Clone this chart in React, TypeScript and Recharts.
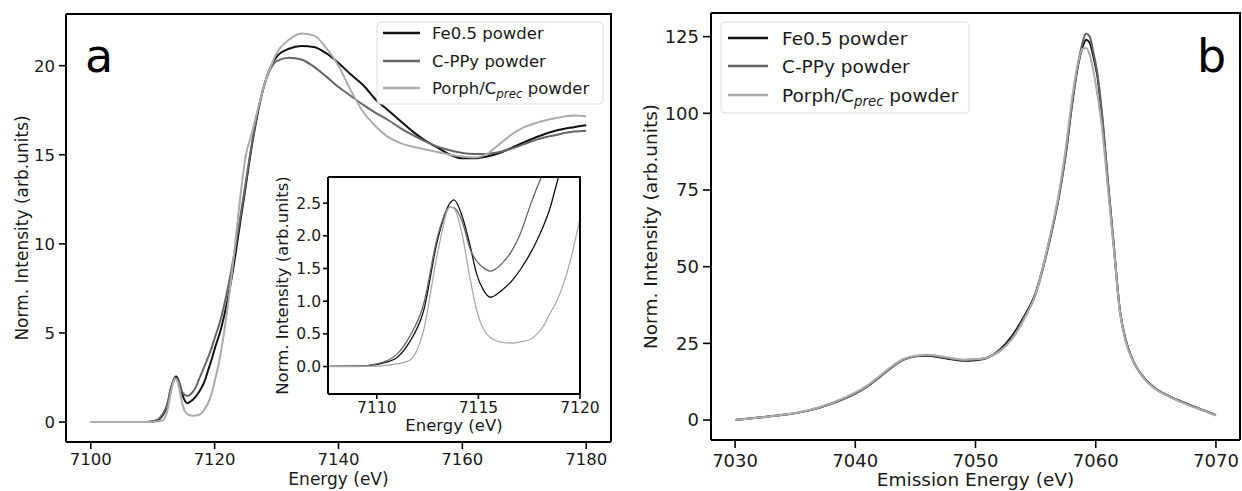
import React from 'react';
import { LineChart, Line, XAxis, YAxis, Label } from 'recharts';

// ---- panel a: Fe K-edge XANES (energy in eV, normalised intensity)
const xanesEnergy = [
  7100, 7105, 7109, 7110, 7110.5, 7111, 7111.6, 7112.3, 7113, 7113.6,
  7113.8, 7114.2, 7114.6, 7114.9, 7115.25, 7115.6, 7116.2, 7116.7, 7117.1, 7117.5,
  7117.9, 7118.2, 7118.5, 7118.9, 7119.5, 7120, 7121, 7122, 7123, 7124,
  7125, 7126, 7127, 7128, 7129, 7130, 7132, 7134, 7136, 7138,
  7140, 7142, 7144, 7146, 7148, 7150, 7152, 7154, 7156, 7158,
  7160, 7162, 7164, 7166, 7168, 7170, 7172, 7175, 7178, 7180,
];
const feXanes = [
  0, 0, 0.005, 0.03, 0.07, 0.14, 0.37, 0.85, 1.95, 2.5,
  2.55, 2.3, 1.84, 1.43, 1.17, 1.06, 1.18, 1.33, 1.5, 1.7,
  1.94, 2.15, 2.4, 2.85, 3.5, 4.1, 5.2, 6.7, 8.6, 10.9,
  13.2, 15.5, 17.4, 18.9, 19.9, 20.5, 20.95, 21.1, 21.05, 20.7,
  20.15, 19.5, 18.9, 18.1, 17.5, 16.9, 16.3, 15.8, 15.4, 15.0,
  14.8, 14.8, 14.9, 15.1, 15.4, 15.7, 16.0, 16.35, 16.55, 16.65,
];
const cppyXanes = [
  0, 0, 0.005, 0.04, 0.09, 0.19, 0.45, 0.95, 2.0, 2.44,
  2.43, 2.22, 1.79, 1.62, 1.51, 1.46, 1.59, 1.8, 2.06, 2.42,
  2.75, 2.98, 3.25, 3.6, 4.15, 4.7, 5.8, 7.3, 9.1, 11.2,
  13.4, 15.6, 17.5, 18.9, 19.8, 20.25, 20.45, 20.35, 19.95, 19.4,
  18.8, 18.3, 17.8, 17.35, 16.95, 16.5, 16.1, 15.75, 15.45, 15.25,
  15.1, 15.05, 15.05, 15.15, 15.35, 15.6, 15.85, 16.1, 16.3, 16.35,
];
const porphXanes = [
  0, 0, 0, 0.005, 0.02, 0.04, 0.09, 0.55, 1.75, 2.44,
  2.42, 2.02, 1.33, 0.88, 0.57, 0.44, 0.37, 0.36, 0.38, 0.41,
  0.5, 0.62, 0.8, 1.03, 1.59, 2.27, 3.9, 6.2, 9.0, 12.2,
  14.9, 16.2, 17.6, 18.9, 19.9, 20.7, 21.45, 21.8, 21.7, 21.0,
  20.0, 18.6, 17.4, 16.6, 16.0, 15.65, 15.45, 15.3, 15.15, 15.0,
  14.9, 14.85, 15.05, 15.6, 16.15, 16.55, 16.8, 17.05, 17.2, 17.15,
];

// ---- panel b: Kbeta emission
const xesEnergy = [
  7030, 7032, 7034, 7036, 7038, 7040, 7041, 7042, 7043, 7044,
  7045, 7046, 7047, 7048, 7049, 7050, 7051, 7052, 7053, 7054,
  7055, 7056, 7057, 7057.5, 7058, 7058.5, 7058.9, 7059.2, 7059.5, 7059.8,
  7060.1, 7060.5, 7061, 7061.5, 7062, 7062.5, 7063, 7064, 7065, 7066,
  7067, 7068, 7069, 7070,
];
const feXes = [
  0, 0.8, 1.7, 3.0, 5.3, 8.7, 11.0, 14.0, 17.2, 19.7,
  20.8, 21.0, 20.5, 19.8, 19.3, 19.5, 20.3, 22.8, 27.2, 33.5,
  41.5, 56, 74.5, 86.5, 102, 115, 121.5, 124, 123, 118.5,
  113, 100, 78, 57, 36, 26, 20.3, 13.8, 10.2, 8.0,
  6.2, 4.6, 3.1, 1.6,
];
const cppyXes = [
  0, 0.8, 1.7, 3.0, 5.3, 8.6, 10.9, 13.9, 17.0, 19.6,
  20.8, 21.1, 20.7, 20.0, 19.6, 19.8, 20.4, 22.5, 26.5, 33.0,
  41.0, 55.5, 74.0, 86.5, 102, 115.5, 123, 126, 125, 120,
  114, 101, 78.5, 57, 36, 26, 20.3, 13.8, 10.2, 8.0,
  6.2, 4.6, 3.1, 1.6,
];
const porphXes = [
  0, 0.8, 1.7, 3.1, 5.5, 9.0, 11.3, 14.3, 17.4, 19.9,
  21.0, 21.3, 20.9, 20.2, 19.7, 19.8, 20.4, 22.4, 26.2, 32.5,
  41.0, 56.5, 75.5, 88.5, 104, 116, 121, 121.3, 119, 114,
  107, 96, 76, 56, 35.5, 25.5, 20, 13.6, 10.0, 7.8,
  6.0, 4.4, 3.0, 1.5,
];

const seriesKeys = ['fe', 'cppy', 'porph'];
const seriesColors = ['#111111', '#666666', '#ababab'];

const xanesTicksX = [7100, 7120, 7140, 7160, 7180];
const xanesTicksY = [0, 5, 10, 15, 20];
const insetTicksX = [7110, 7115, 7120];
const insetTicksY = [0, 0.5, 1, 1.5, 2, 2.5];
const xesTicksX = [7030, 7040, 7050, 7060, 7070];
const xesTicksY = [0, 25, 50, 75, 100, 125];

const xanesData = xanesEnergy.map((e, i) => ({
  e,
  fe: feXanes[i],
  cppy: cppyXanes[i],
  porph: porphXanes[i],
}));
const xesData = xesEnergy.map((e, i) => ({
  e,
  fe: feXes[i],
  cppy: cppyXes[i],
  porph: porphXes[i],
}));

const FONT = '"DejaVu Sans", Verdana, sans-serif';
const TEXT = '#1a1a1a';
const axisLine = { stroke: '#000', strokeWidth: 2 };
const tickLine = { stroke: '#000', strokeWidth: 1.6 };

const lines = (width: number) =>
  seriesKeys.map((k, i) => (
    <Line
      key={k}
      type="monotone"
      dataKey={k}
      stroke={seriesColors[i]}
      strokeWidth={width}
      dot={false}
      isAnimationActive={false}
    />
  ));

const Legend = ({ x, y, w, h, rows, sx, sw, tx, fs }: any) => (
  <g>
    <rect x={x} y={y} width={w} height={h} rx={4} fill="#fff" fillOpacity={0.85} stroke="#dcdcdc" />
    {seriesKeys.map((k, i) => (
      <g key={k}>
        <line x1={sx} x2={sx + sw} y1={rows[i]} y2={rows[i]} stroke={seriesColors[i]} strokeWidth={2.5} />
        <text x={tx} y={rows[i] + fs * 0.37} fontSize={fs} fontFamily={FONT} fill={TEXT}>
          {i === 0 && 'Fe0.5 powder'}
          {i === 1 && 'C-PPy powder'}
          {i === 2 && (
            <>
              <tspan>Porph/C</tspan>
              <tspan dy={fs * 0.22} fontSize={fs * 0.72} fontStyle="italic">prec</tspan>
              <tspan dy={-fs * 0.22}> powder</tspan>
            </>
          )}
        </text>
      </g>
    ))}
  </g>
);

export default function App() {
  return (
    <div style={{ position: 'absolute', left: 0, top: 0, width: 1242, height: 491, background: '#fff' }}>
      {/* panel a */}
      <div style={{ position: 'absolute', left: 0, top: 0 }}>
        <LineChart width={620} height={491} data={xanesData} margin={{ top: 14, right: 9, bottom: 0, left: 0 }}>
          <XAxis
            dataKey="e"
            type="number"
            domain={[7096, 7184]}
            ticks={xanesTicksX}
            allowDataOverflow
            height={49}
            tickSize={7}
            tickMargin={4}
            tick={{ fontSize: 16.5, fill: TEXT, fontFamily: FONT }}
            axisLine={axisLine}
            tickLine={tickLine}
          >
            <Label value="Energy (eV)" position="insideBottom" offset={6} style={{ fontSize: 17, fill: TEXT, fontFamily: FONT }} />
          </XAxis>
          <YAxis
            type="number"
            domain={[-1.12, 22.9]}
            ticks={xanesTicksY}
            allowDataOverflow
            width={66}
            tickSize={7}
            tickMargin={4}
            tick={{ fontSize: 16.5, fill: TEXT, fontFamily: FONT }}
            axisLine={axisLine}
            tickLine={tickLine}
          >
            <Label
              value="Norm. Intensity (arb.units)"
              angle={-90}
              position="insideLeft"
              offset={22}
              style={{ textAnchor: 'middle', fontSize: 17, fill: TEXT, fontFamily: FONT }}
            />
          </YAxis>
          {lines(2)}
        </LineChart>
      </div>

      {/* inset of panel a */}
      <div style={{ position: 'absolute', left: 270, top: 168, background: '#fff' }}>
        <LineChart width={340} height={273} data={xanesData} margin={{ top: 9, right: 30, bottom: 0, left: 0 }}>
          <XAxis
            dataKey="e"
            type="number"
            domain={[7107.6, 7120]}
            ticks={insetTicksX}
            allowDataOverflow
            height={47}
            tickSize={5}
            tickMargin={3}
            tick={{ fontSize: 15.5, fill: TEXT, fontFamily: FONT }}
            axisLine={axisLine}
            tickLine={tickLine}
          >
            <Label value="Energy (eV)" position="insideBottom" offset={10} style={{ fontSize: 16.5, fill: TEXT, fontFamily: FONT }} />
          </XAxis>
          <YAxis
            type="number"
            domain={[-0.42, 2.9]}
            ticks={insetTicksY}
            allowDataOverflow
            width={58}
            tickSize={5}
            tickMargin={2}
            tickFormatter={(v: number) => v.toFixed(1)}
            tick={{ fontSize: 15.5, fill: TEXT, fontFamily: FONT }}
            axisLine={axisLine}
            tickLine={tickLine}
          >
            <Label
              value="Norm. Intensity (arb.units)"
              angle={-90}
              position="insideLeft"
              offset={12}
              style={{ textAnchor: 'middle', fontSize: 16.5, fill: TEXT, fontFamily: FONT }}
            />
          </YAxis>
          {lines(1.3)}
        </LineChart>
      </div>

      {/* panel b */}
      <div style={{ position: 'absolute', left: 620, top: 0 }}>
        <LineChart width={622} height={491} data={xesData} margin={{ top: 13, right: 2, bottom: 0, left: 0 }}>
          <XAxis
            dataKey="e"
            type="number"
            domain={[7028, 7072]}
            ticks={xesTicksX}
            allowDataOverflow
            height={51}
            tickSize={8}
            tickMargin={6}
            tick={{ fontSize: 18, fill: TEXT, fontFamily: FONT }}
            axisLine={axisLine}
            tickLine={tickLine}
          >
            <Label value="Emission Energy (eV)" position="insideBottom" offset={5} style={{ fontSize: 18.5, fill: TEXT, fontFamily: FONT }} />
          </XAxis>
          <YAxis
            type="number"
            domain={[-6.5, 132.7]}
            ticks={xesTicksY}
            allowDataOverflow
            width={91}
            tickSize={8}
            tickMargin={4}
            tick={{ fontSize: 18, fill: TEXT, fontFamily: FONT }}
            axisLine={axisLine}
            tickLine={tickLine}
          >
            <Label
              value="Norm. Intensity (arb.units)"
              angle={-90}
              position="insideLeft"
              offset={30}
              style={{ textAnchor: 'middle', fontSize: 18.5, fill: TEXT, fontFamily: FONT }}
            />
          </YAxis>
          {lines(2)}
        </LineChart>
      </div>

      {/* box frames, legends and panel letters */}
      <svg width={1242} height={491} style={{ position: 'absolute', left: 0, top: 0, pointerEvents: 'none' }}>
        <g fill="none" stroke="#000" strokeWidth={2}>
          <polyline points="66,14 611,14 611,442" />
          <polyline points="328,177 580,177 580,394" />
          <polyline points="711,13 1240,13 1240,440" />
        </g>
        <Legend x={377} y={22} w={226} h={82} rows={[33, 61, 88]} sx={383} sw={37} tx={432} fs={16.5} />
        <Legend x={721} y={22} w={248} h={91} rows={[38, 66, 95]} sx={728} sw={40} tx={782} fs={18.5} />
        <text x={85} y={72} fontSize={46} fontFamily={FONT} fill="#000">a</text>
        <text x={1197} y={72} fontSize={46} fontFamily={FONT} fill="#000">b</text>
      </svg>
    </div>
  );
}
